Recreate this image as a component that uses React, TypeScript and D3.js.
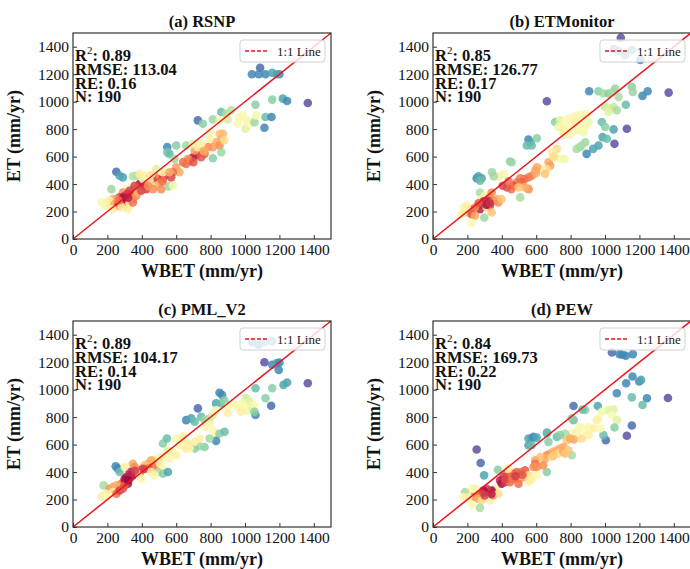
import React, { useEffect, useRef } from "react";
import * as d3 from "d3";

const width = 690;
const height = 569;
const panelW = 258;
const panelH = 206;
const serif = "'Liberation Serif', 'Times New Roman', serif";

const panelLefts = [73, 433];
const panelTops = [33, 321];

const titles = ["(a) RSNP", "(b) ETMonitor", "(c) PML_V2", "(d) PEW"];
const r2Values = ["0.89", "0.85", "0.89", "0.84"];
const rmseValues = ["113.04", "126.77", "104.17", "169.73"];
const reValues = ["0.16", "0.17", "0.14", "0.22"];
const nValues = ["190", "190", "190", "190"];
const ticks = [0, 200, 400, 600, 800, 1000, 1200, 1400];

// [WBET, ET, colour value 0..1 on Spectral]
const rsnpPoints = [
  [1040, 1200, 0.9], [1088, 1247, 0.95], [1080, 1200, 0.9], [1119, 1200, 0.9], [1158, 1210, 0.85],
  [1200, 1200, 0.9], [1185, 1200, 0.85], [1365, 990, 1.0], [1220, 1022, 0.85], [1245, 1005, 0.9],
  [1158, 1015, 0.75], [1119, 888, 0.8], [1154, 888, 0.9], [1113, 810, 0.9], [1061, 978, 0.75],
  [726, 864, 0.95], [755, 839, 0.75], [813, 871, 0.72], [862, 925, 0.8], [891, 913, 0.7],
  [920, 937, 0.68], [852, 864, 0.55], [900, 871, 0.62], [968, 888, 0.5], [987, 900, 0.5],
  [1010, 864, 0.48], [958, 839, 0.5], [1003, 803, 0.6], [1026, 839, 0.5], [1055, 851, 0.72],
  [1065, 900, 0.55], [798, 778, 0.55], [852, 766, 0.35], [813, 669, 0.28], [832, 705, 0.3],
  [862, 730, 0.3], [871, 766, 0.32], [852, 681, 0.25], [784, 669, 0.25], [765, 620, 0.2],
  [736, 632, 0.15], [716, 608, 0.12], [745, 595, 0.15], [697, 595, 0.05], [678, 571, 0.1],
  [658, 547, 0.2], [668, 583, 0.25], [707, 644, 0.28], [726, 669, 0.45], [745, 693, 0.45],
  [794, 730, 0.45], [813, 588, 0.75], [862, 632, 0.72], [548, 669, 0.9], [548, 632, 0.78],
  [561, 620, 0.8], [600, 681, 0.75], [658, 681, 0.72], [697, 693, 0.6], [590, 583, 0.72],
  [556, 383, 0.72], [600, 522, 0.28], [619, 486, 0.3], [581, 486, 0.2], [571, 449, 0.12],
  [532, 461, 0.1], [523, 437, 0.15], [494, 437, 0.1], [474, 461, 0.25], [465, 425, 0.12],
  [484, 388, 0.45], [503, 400, 0.3], [455, 461, 0.2], [436, 437, 0.1], [416, 400, 0.02],
  [387, 400, 0.02], [407, 388, 0.08], [426, 363, 0.12], [368, 363, 0.28], [445, 425, 0.45],
  [416, 461, 0.45], [407, 437, 0.5], [368, 461, 0.7], [348, 456, 0.68], [387, 473, 0.45],
  [455, 473, 0.5], [484, 510, 0.6], [523, 486, 0.45], [561, 486, 0.3], [581, 388, 0.55],
  [465, 363, 0.25], [513, 363, 0.25], [436, 388, 0.25], [348, 363, 0.25], [252, 490, 0.95],
  [271, 461, 0.85], [290, 449, 0.85], [223, 363, 0.72], [310, 363, 0.5], [290, 339, 0.25],
  [319, 327, 0.05], [329, 351, 0.1], [300, 315, 0.1], [271, 303, 0.12], [252, 290, 0.25],
  [232, 290, 0.3], [213, 278, 0.45], [194, 266, 0.45], [165, 266, 0.5], [184, 242, 0.5],
  [213, 242, 0.45], [242, 254, 0.3], [281, 266, 0.12], [300, 254, 0.25], [310, 290, 0.02],
  [339, 315, 0.1], [348, 290, 0.25], [329, 266, 0.45], [261, 242, 0.1], [281, 229, 0.45],
  [319, 217, 0.45], [232, 217, 0.45], [348, 266, 0.2], [368, 315, 0.25], [378, 339, 0.3],
  [397, 351, 0.12], [358, 388, 0.12], [290, 300, 0.02], [320, 300, 0.05], [265, 280, 0.2],
  [640, 560, 0.2], [700, 560, 0.15], [760, 640, 0.3], [880, 720, 0.4], [520, 420, 0.2],
];

const etmonitorPoints = [
  [1092, 1466, 1.0], [1205, 1303, 0.9], [1117, 1340, 0.85], [1050, 1383, 0.85], [1156, 1376, 0.85],
  [1079, 1369, 0.85], [908, 1076, 0.9], [962, 1076, 0.75], [991, 1059, 0.7], [1020, 1059, 0.75],
  [1050, 1076, 0.7], [1059, 1096, 0.72], [1156, 1108, 0.75], [1162, 1071, 0.72], [1218, 1042, 0.9],
  [1248, 1076, 0.9], [1370, 1066, 1.0], [662, 1003, 1.0], [1079, 1035, 0.7], [1121, 978, 0.8],
  [1001, 961, 0.65], [1030, 949, 0.6], [1050, 961, 0.65], [1020, 925, 0.6], [1069, 937, 0.7],
  [982, 852, 0.8], [1001, 815, 0.75], [1050, 798, 0.85], [1127, 803, 1.0], [986, 742, 0.85],
  [1011, 730, 0.8], [1055, 693, 1.0], [962, 681, 0.85], [931, 656, 0.85], [893, 620, 0.9],
  [885, 705, 0.72], [854, 669, 0.72], [835, 656, 0.7], [864, 681, 0.7], [710, 852, 0.75],
  [739, 864, 0.6], [768, 856, 0.5], [788, 876, 0.5], [817, 888, 0.5], [846, 900, 0.48],
  [874, 905, 0.5], [893, 913, 0.52], [729, 815, 0.55], [758, 803, 0.45], [788, 803, 0.5],
  [817, 815, 0.5], [846, 791, 0.55], [874, 778, 0.55], [885, 815, 0.5], [904, 852, 0.55],
  [855, 839, 0.5], [826, 852, 0.45], [555, 725, 0.9], [565, 705, 0.85], [545, 681, 0.8],
  [574, 681, 0.8], [604, 734, 0.75], [448, 564, 0.75], [458, 559, 0.72], [720, 656, 0.4],
  [691, 632, 0.45], [710, 595, 0.45], [739, 583, 0.5], [764, 583, 0.55], [672, 559, 0.3],
  [681, 534, 0.28], [662, 510, 0.4], [633, 510, 0.45], [652, 473, 0.35], [604, 522, 0.3],
  [595, 498, 0.28], [575, 461, 0.25], [556, 449, 0.22], [532, 437, 0.2], [507, 442, 0.22],
  [517, 412, 0.18], [488, 412, 0.2], [469, 388, 0.15], [455, 363, 0.2], [430, 376, 0.15],
  [405, 388, 0.12], [556, 363, 0.25], [536, 376, 0.3], [498, 376, 0.35], [507, 303, 0.7],
  [411, 473, 0.55], [382, 456, 0.45], [353, 456, 0.7], [343, 486, 0.72], [254, 442, 0.9],
  [264, 456, 0.85], [283, 442, 0.85], [273, 425, 0.8], [273, 339, 0.7], [302, 315, 0.5],
  [331, 303, 0.3], [341, 339, 0.25], [322, 278, 0.05], [302, 266, 0.02], [283, 254, 0.05],
  [264, 242, 0.1], [273, 217, 0.05], [244, 229, 0.25], [225, 217, 0.2], [205, 193, 0.3],
  [186, 205, 0.4], [176, 229, 0.5], [196, 242, 0.45], [167, 181, 0.45], [225, 181, 0.15],
  [244, 169, 0.3], [225, 115, 0.5], [298, 156, 0.72], [353, 278, 0.2], [372, 290, 0.3],
  [380, 266, 0.25], [399, 290, 0.35], [312, 229, 0.4], [331, 242, 0.15], [283, 290, 0.45],
  [341, 193, 0.35], [310, 250, 0.02], [295, 275, 0.05], [330, 260, 0.08], [265, 260, 0.15],
  [440, 420, 0.2], [600, 480, 0.3], [700, 600, 0.4], [800, 760, 0.5], [760, 760, 0.45],
];

const pmlPoints = [
  [1040, 1345, 0.9], [1080, 1327, 0.9], [1113, 1345, 0.85], [1158, 1352, 0.85], [1113, 1200, 1.0],
  [1158, 1181, 0.9], [1185, 1193, 0.85], [1196, 1144, 0.9], [1200, 1198, 0.9], [1365, 1047, 1.0],
  [1224, 1035, 0.85], [1245, 1052, 0.85], [1158, 1010, 0.75], [1061, 1010, 0.8], [1119, 937, 0.75],
  [1152, 883, 0.95], [1061, 815, 0.9], [852, 978, 0.9], [867, 961, 0.9], [726, 864, 0.95],
  [832, 900, 0.85], [862, 900, 0.8], [881, 920, 0.75], [1007, 937, 0.65], [1026, 913, 0.6],
  [987, 905, 0.55], [958, 888, 0.5], [929, 888, 0.5], [900, 876, 0.5], [968, 864, 0.5],
  [997, 876, 0.5], [1016, 847, 0.55], [1045, 864, 0.6], [1055, 888, 0.5], [978, 839, 0.45],
  [1055, 839, 0.75], [658, 778, 0.9], [687, 791, 0.85], [745, 803, 0.8], [707, 766, 0.8],
  [765, 778, 0.72], [794, 791, 0.7], [813, 815, 0.6], [832, 852, 0.55], [794, 754, 0.55],
  [765, 730, 0.5], [813, 705, 0.5], [832, 669, 0.5], [852, 681, 0.75], [881, 693, 0.8],
  [832, 627, 0.9], [794, 644, 0.72], [765, 583, 0.75], [736, 588, 0.72], [707, 571, 0.75],
  [678, 571, 0.5], [658, 571, 0.45], [707, 620, 0.45], [736, 644, 0.45], [668, 608, 0.45],
  [639, 595, 0.45], [619, 595, 0.5], [581, 547, 0.5], [600, 522, 0.45], [552, 559, 0.45],
  [523, 608, 0.75], [546, 644, 0.8], [552, 547, 0.6], [503, 510, 0.5], [474, 486, 0.45],
  [523, 510, 0.45], [561, 498, 0.5], [494, 473, 0.4], [455, 486, 0.3], [436, 461, 0.3],
  [416, 449, 0.35], [407, 425, 0.2], [387, 412, 0.15], [436, 425, 0.2], [465, 437, 0.15],
  [484, 449, 0.25], [507, 461, 0.45], [523, 425, 0.5], [494, 400, 0.7], [523, 388, 0.75],
  [552, 400, 0.85], [474, 376, 0.5], [455, 400, 0.45], [348, 461, 0.3], [358, 437, 0.25],
  [387, 388, 0.2], [329, 400, 0.05], [348, 376, 0.02], [310, 363, 0.05], [300, 327, 0.1],
  [281, 315, 0.2], [271, 290, 0.25], [252, 303, 0.3], [319, 315, 0.02], [329, 351, 0.15],
  [397, 351, 0.5], [378, 388, 0.45], [248, 442, 0.9], [261, 425, 0.9], [271, 400, 0.8],
  [300, 437, 0.45], [178, 303, 0.7], [213, 278, 0.25], [232, 290, 0.3], [232, 254, 0.45],
  [194, 242, 0.45], [165, 222, 0.45], [194, 217, 0.5], [252, 242, 0.2], [271, 266, 0.1],
  [290, 278, 0.15], [300, 350, 0.02], [340, 380, 0.05], [360, 410, 0.1], [410, 420, 0.1],
  [300, 300, 0.15], [320, 340, 0.0], [600, 640, 0.5], [640, 660, 0.45], [900, 830, 0.45],
];

const pewPoints = [
  [1040, 1271, 0.95], [1084, 1259, 0.9], [1102, 1254, 0.9], [1121, 1247, 0.9], [1162, 1259, 0.9],
  [1160, 1096, 0.9], [1199, 1059, 0.9], [1210, 1071, 0.85], [1123, 1047, 0.9], [1069, 974, 0.9],
  [1156, 944, 0.8], [1244, 937, 0.9], [1218, 888, 0.8], [1366, 939, 1.0], [817, 881, 0.95],
  [885, 852, 0.75], [869, 856, 0.8], [817, 778, 0.8], [807, 791, 0.75], [958, 881, 0.85],
  [1017, 852, 0.6], [1050, 856, 0.6], [982, 839, 0.55], [1040, 815, 0.5], [1069, 778, 0.6],
  [1055, 725, 0.75], [1005, 632, 0.95], [991, 669, 0.8], [1156, 739, 0.95], [1127, 664, 1.0],
  [962, 791, 0.5], [904, 730, 0.5], [933, 717, 0.45], [972, 717, 0.5], [952, 778, 0.45],
  [807, 681, 0.5], [835, 693, 0.45], [855, 730, 0.55], [885, 705, 0.5], [768, 681, 0.7],
  [720, 656, 0.8], [739, 669, 0.75], [778, 632, 0.35], [797, 644, 0.3], [819, 637, 0.3],
  [865, 644, 0.4], [904, 669, 0.45], [663, 688, 0.85], [555, 644, 0.85], [574, 644, 0.85],
  [584, 656, 0.9], [555, 595, 0.85], [603, 651, 0.85], [574, 595, 0.8], [662, 681, 0.8],
  [671, 620, 0.75], [759, 583, 0.3], [739, 571, 0.3], [720, 559, 0.3], [700, 547, 0.3],
  [681, 534, 0.3], [662, 522, 0.25], [652, 498, 0.3], [623, 510, 0.35], [594, 486, 0.3],
  [729, 534, 0.4], [758, 547, 0.3], [787, 559, 0.35], [807, 522, 0.7], [768, 534, 0.35],
  [594, 461, 0.2], [603, 437, 0.25], [584, 437, 0.25], [662, 400, 0.75], [691, 510, 0.4],
  [535, 412, 0.15], [516, 400, 0.2], [505, 388, 0.2], [487, 400, 0.18], [467, 388, 0.15],
  [458, 376, 0.2], [438, 363, 0.15], [428, 388, 0.2], [409, 363, 0.1], [390, 339, 0.05],
  [399, 315, 0.02], [419, 327, 0.1], [448, 327, 0.2], [477, 351, 0.25], [505, 351, 0.3],
  [535, 363, 0.3], [555, 376, 0.4], [574, 351, 0.45], [603, 376, 0.5], [497, 315, 0.2],
  [377, 417, 0.75], [438, 425, 0.45], [254, 564, 1.0], [277, 466, 0.95], [297, 376, 0.85],
  [361, 278, 0.45], [341, 266, 0.0], [322, 254, 0.05], [312, 278, 0.1], [293, 266, 0.02],
  [283, 242, 0.1], [264, 229, 0.15], [244, 242, 0.2], [235, 217, 0.25], [264, 205, 0.3],
  [283, 193, 0.4], [244, 278, 0.45], [225, 278, 0.5], [186, 254, 0.7], [176, 217, 0.5],
  [205, 217, 0.45], [225, 163, 0.5], [273, 139, 0.7], [331, 193, 0.45], [350, 229, 0.25],
  [380, 242, 0.4], [340, 240, 0.05], [300, 230, 0.1], [420, 350, 0.12], [460, 350, 0.2],
  [520, 380, 0.15], [480, 370, 0.1], [640, 450, 0.25], [700, 520, 0.35], [560, 330, 0.45],
];

const panelPoints = [rsnpPoints, etmonitorPoints, pmlPoints, pewPoints];

export default function App() {
  const ref = useRef(null);

  useEffect(() => {
    const svg = d3.select(ref.current);
    svg.selectAll("*").remove();

    const x = d3.scaleLinear().domain([0, 1500]).range([0, panelW]);
    const y = d3.scaleLinear().domain([0, 1500]).range([panelH, 0]);
    const fmt = d3.format("d");

    titles.forEach((title, i) => {
      const ox = panelLefts[i % 2];
      const oy = panelTops[Math.floor(i / 2)];
      const g = svg.append("g").attr("transform", `translate(${ox},${oy})`);

      // body
      g.append("g")
        .selectAll("circle")
        .data(panelPoints[i])
        .join("circle")
        .attr("cx", d => x(d[0]))
        .attr("cy", d => y(d[1]))
        .attr("r", 4.3)
        .attr("fill", d => d3.interpolateSpectral(d[2]))
        .attr("fill-opacity", 0.85);

      // 1:1 line
      g.append("line")
        .attr("x1", x(0))
        .attr("y1", y(0))
        .attr("x2", x(1500))
        .attr("y2", y(1500))
        .attr("stroke", "#e8141c")
        .attr("stroke-width", 1.5);

      // osy
      const styleAxis = a => {
        a.select(".domain").remove();
        a.attr("font-size", 15.5).attr("font-family", serif);
        a.selectAll(".tick line").attr("stroke", "#333");
        a.selectAll(".tick text").attr("fill", "#111");
      };
      g.append("g")
        .attr("transform", `translate(0,${panelH})`)
        .call(d3.axisBottom(x).tickValues(ticks).tickFormat(fmt).tickSizeInner(-4).tickSizeOuter(0).tickPadding(5))
        .call(styleAxis);
      g.append("g")
        .call(d3.axisLeft(y).tickValues(ticks).tickFormat(fmt).tickSizeInner(-4).tickSizeOuter(0).tickPadding(4))
        .call(styleAxis);

      g.append("rect")
        .attr("width", panelW)
        .attr("height", panelH)
        .attr("fill", "none")
        .attr("stroke", "#333")
        .attr("stroke-width", 1.2);

      // legenda
      const leg = g.append("g").attr("transform", "translate(167,7)");
      leg.append("rect")
        .attr("width", 85)
        .attr("height", 22)
        .attr("rx", 3)
        .attr("fill", "white")
        .attr("fill-opacity", 0.8)
        .attr("stroke", "#d0d0d0");
      leg.append("line")
        .attr("x1", 5)
        .attr("x2", 27)
        .attr("y1", 11)
        .attr("y2", 11)
        .attr("stroke", "#e8141c")
        .attr("stroke-width", 1.5)
        .attr("stroke-dasharray", "4,2");
      leg.append("text")
        .attr("x", 37)
        .attr("y", 15.5)
        .attr("font-family", serif)
        .attr("font-size", 13)
        .attr("fill", "#222")
        .text("1:1 Line");

      // statistiky
      const stats = g.append("g")
        .attr("font-family", serif)
        .attr("font-weight", "bold")
        .attr("font-size", 16.5)
        .attr("fill", "#111");
      const r2 = stats.append("text").attr("x", 2).attr("y", 28);
      r2.append("tspan").text("R");
      r2.append("tspan").attr("font-size", 11).attr("dy", -7).attr("font-weight", "normal").text("2");
      r2.append("tspan").attr("dy", 7).text(`: ${r2Values[i]}`);
      stats.append("text").attr("x", 2).attr("y", 42).text(`RMSE: ${rmseValues[i]}`);
      stats.append("text").attr("x", 2).attr("y", 55.5).text(`RE: ${reValues[i]}`);
      stats.append("text").attr("x", 2).attr("y", 69).text(`N: ${nValues[i]}`);

      // titulky
      g.append("text")
        .attr("x", panelW / 2)
        .attr("y", -6)
        .attr("text-anchor", "middle")
        .attr("font-family", serif)
        .attr("font-weight", "bold")
        .attr("font-size", 16.5)
        .attr("fill", "#111")
        .text(title);
      g.append("text")
        .attr("x", panelW / 2)
        .attr("y", panelH + 38)
        .attr("text-anchor", "middle")
        .attr("font-family", serif)
        .attr("font-weight", "bold")
        .attr("font-size", 18)
        .attr("fill", "#111")
        .text("WBET (mm/yr)");
      g.append("text")
        .attr("transform", `translate(-53,${panelH / 2}) rotate(-90)`)
        .attr("text-anchor", "middle")
        .attr("font-family", serif)
        .attr("font-weight", "bold")
        .attr("font-size", 18)
        .attr("fill", "#111")
        .text("ET (mm/yr)");
    });
  }, []);

  return (
    <svg
      ref={ref}
      width={width}
      height={height}
      viewBox={`0 0 ${width} ${height}`}
      style={{ position: "absolute", left: 0, top: 0, background: "white" }}
    ></svg>
  );
}
